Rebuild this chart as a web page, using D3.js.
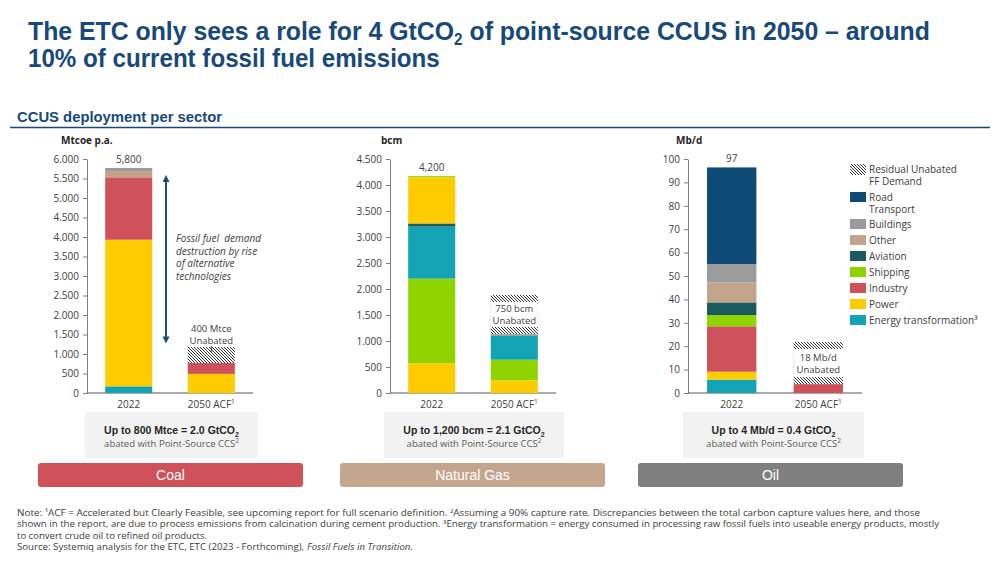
<!DOCTYPE html>
<html lang="en">
<head>
<meta charset="utf-8">
<title>CCUS deployment per sector</title>
<script src="https://cdnjs.cloudflare.com/ajax/libs/d3/7.8.5/d3.min.js"></script>
<style>
  body { margin: 0; background: #fff; }
  text { font-family: "Open Sans", "DejaVu Sans", sans-serif; fill: #404040; white-space: pre; }
  .narrow { font-family: "Liberation Sans Narrow", "Arial Narrow", "Liberation Sans", sans-serif; }
</style>
</head>
<body>
<script>

var w = 1000;
var h = 563;

// sectors and their colours (legend order, top to bottom)
var sectorNames = ["Road Transport", "Buildings", "Other", "Aviation", "Shipping", "Industry", "Power", "Energy transformation"];
var sectorColors = ["#0D4A75", "#9B9B9B", "#C4A38D", "#1B5A5D", "#8FD400", "#CF525A", "#FFCC00", "#12A3B5"];
var legendLabels = [["Residual Unabated", "FF Demand"], ["Road", "Transport"], ["Buildings"], ["Other"], ["Aviation"], ["Shipping"], ["Industry"], ["Power"], ["Energy transformation³"]];

var categories = ["2022", "2050 ACF"];

// coal, Mtcoe p.a.
var coal2022Sectors = ["Energy transformation", "Power", "Industry", "Other", "Buildings"];
var coal2022Values = [170, 3760, 1600, 160, 80];
var coal2050Sectors = ["Power", "Industry"];
var coal2050Values = [490, 280];
var coalUnabated = 410;
var coalTicks = [0, 500, 1000, 1500, 2000, 2500, 3000, 3500, 4000, 4500, 5000, 5500, 6000];

// natural gas, bcm
var gas2022Sectors = ["Power", "Shipping", "Energy transformation", "Aviation", "Power", "Shipping"];
var gas2022Values = [575, 1625, 1000, 60, 890, 20];
var gas2050Sectors = ["Power", "Shipping", "Energy transformation", "Other"];
var gas2050Values = [245, 395, 470, 25];
var gasUnabated = 750;
var gasTicks = [0, 500, 1000, 1500, 2000, 2500, 3000, 3500, 4000, 4500];

// oil, Mb/d
var oil2022Sectors = ["Energy transformation", "Power", "Industry", "Shipping", "Aviation", "Other", "Buildings", "Road Transport"];
var oil2022Values = [5.7, 3.4, 19.4, 4.8, 5.4, 8.6, 7.8, 41.3];
var oil2050Sectors = ["Industry"];
var oil2050Values = [3.8];
var oilUnabated = 18;
var oilTicks = [0, 10, 20, 30, 40, 50, 60, 70, 80, 90, 100];

var totalLabels = ["5,800", "4,200", "97"];
var unabatedLabels = [["400 Mtce", "Unabated"], ["750 bcm", "Unabated"], ["18 Mb/d", "Unabated"]];
var unitLabels = ["Mtcoe p.a.", "bcm", "Mb/d"];
var boxBold = ["Up to 800 Mtce = 2.0 GtCO", "Up to 1,200 bcm = 2.1 GtCO", "Up to 4 Mb/d = 0.4 GtCO"];
var fuelNames = ["Coal", "Natural Gas", "Oil"];
var fuelColors = ["#CF525A", "#C4A68F", "#7F7F7F"];

var color = d3.scaleOrdinal(sectorNames, sectorColors);
var dotFormat = d3.formatLocale({decimal: ",", thousands: ".", grouping: [3], currency: ["", ""]}).format(",");

var svg = d3.select("body")
            .append("svg")
            .attr("width", w)
            .attr("height", h);

// lays pieces of text side by side (sub/superscripts as their own elements)
function richText(parent, x, y, anchor, parts, cls) {
  var g = parent.append("g");
  var cx = 0;
  parts.forEach(function(p) {
    var t = g.append("text")
      .attr("x", cx).attr("y", p.dy || 0)
      .attr("font-size", p.size)
      .attr("font-weight", p.weight || "normal")
      .attr("font-style", p.style || "normal")
      .text(p.t);
    if (cls) t.attr("class", cls);
    if (p.fill) t.style("fill", p.fill);
    cx += t.node().getComputedTextLength();
  });
  var x0 = anchor == "middle" ? x - cx / 2 : x;
  g.attr("transform", "translate(" + x0 + "," + y + ")");
  return {g: g, width: cx};
}

var defs = svg.append("defs");
var pat = defs.append("pattern")
    .attr("id", "hatch")
    .attr("patternUnits", "userSpaceOnUse")
    .attr("width", 3)
    .attr("height", 3);
pat.append("rect").attr("width", 3).attr("height", 3).attr("fill", "#fff");
pat.append("path")
   .attr("d", "M0,0 L3,3 M-1,2 L1,4 M2,-1 L4,1")
   .attr("stroke", "#333")
   .attr("stroke-width", 1);

defs.append("marker")
    .attr("id", "arrowhead")
    .attr("viewBox", "0 0 10 10")
    .attr("refX", 5).attr("refY", 5)
    .attr("markerWidth", 3.5).attr("markerHeight", 3.5)
    .attr("orient", "auto-start-reverse")
  .append("path")
    .attr("d", "M0,0 L10,5 L0,10 z")
    .attr("fill", "#1F4E79");

// title, squeezed horizontally to the reference width
var navy = "#17497A";
var t1 = richText(svg, 0, 0, "start", [
  {t: "The ETC only sees a role for 4 GtCO", size: 26, weight: "bold", fill: navy},
  {t: "2", size: 16, dy: 5, weight: "bold", fill: navy},
  {t: " of point-source CCUS in 2050 – around", size: 26, weight: "bold", fill: navy}
], "narrow");
t1.g.attr("transform", "translate(28,40) scale(" + (902 / t1.width) + ",1)");
var t2 = richText(svg, 0, 0, "start", [
  {t: "10% of current fossil fuel emissions", size: 26, weight: "bold", fill: navy}
], "narrow");
t2.g.attr("transform", "translate(28,67) scale(" + (412 / t2.width) + ",1)");

svg.append("text").attr("class", "narrow")
    .attr("x", 17).attr("y", 122)
    .attr("font-size", 15).attr("font-weight", "bold")
    .style("fill", navy)
    .attr("textLength", 205).attr("lengthAdjust", "spacingAndGlyphs")
    .text("CCUS deployment per sector");

svg.append("line")
   .attr("x1", 10).attr("x2", 990)
   .attr("y1", 127.5).attr("y2", 127.5)
   .attr("stroke", navy)
   .attr("stroke-width", 1.5);

function stack(names, values) {
  var sums = d3.cumsum(values);
  return values.map(function(v, i) {
    return {sector: names[i], y0: sums[i] - v, y1: sums[i]};
  });
}

var charts = [
  {x0: 87, len: 166, max: 6000, ticks: coalTicks, unitDx: -26, inside: false,
   bars: [stack(coal2022Sectors, coal2022Values), stack(coal2050Sectors, coal2050Values)],
   unabated: coalUnabated, box: [85, 258], band: [38, 303]},
  {x0: 390, len: 166, max: 4500, ticks: gasTicks, unitDx: -9, inside: true,
   bars: [stack(gas2022Sectors, gas2022Values), stack(gas2050Sectors, gas2050Values)],
   unabated: gasUnabated, box: [384, 564], band: [340, 605]},
  {x0: 688, len: 174, max: 100, ticks: oilTicks, unitDx: -12, inside: true,
   bars: [stack(oil2022Sectors, oil2022Values), stack(oil2050Sectors, oil2050Values)],
   unabated: oilUnabated, box: [683, 864], band: [638, 903]}
];

charts.forEach(function(c, k) {
  var y = d3.scaleLinear().domain([0, c.max]).range([393, 159]);
  var x = d3.scaleBand().domain(categories)
            .range([c.x0, c.x0 + c.len])
            .paddingInner(0.43).paddingOuter(0.22);
  var g = svg.append("g");

  var ax = g.append("g")
      .attr("transform", "translate(" + c.x0 + ",0)")
      .call(d3.axisLeft(y).tickValues(c.ticks).tickSize(4).tickSizeOuter(0).tickPadding(4)
              .tickFormat(function(d) { return dotFormat(d); }));
  ax.select(".domain").attr("stroke", "#7f7f7f");
  ax.selectAll(".tick line").attr("stroke", "#7f7f7f");
  ax.selectAll(".tick text").attr("font-size", 10).style("fill", "#404040");

  g.append("line")
   .attr("x1", c.x0).attr("x2", c.x0 + c.len)
   .attr("y1", y(0)).attr("y2", y(0))
   .attr("stroke", "#595959");

  g.append("text")
   .attr("x", c.x0 + c.unitDx).attr("y", 144)
   .attr("font-size", 10).attr("font-weight", "bold")
   .style("fill", "#262626")
   .text(unitLabels[k]);

  c.bars.forEach(function(segs, i) {
    g.selectAll(null)
     .data(segs)
     .enter()
     .append("rect")
     .attr("x", x(categories[i]))
     .attr("width", x.bandwidth())
     .attr("y", function(d) { return y(d.y1); })
     .attr("height", function(d) { return y(d.y0) - y(d.y1); })
     .attr("fill", function(d) { return color(d.sector); });
  });

  // x labels
  categories.forEach(function(cat, i) {
    var parts = [{t: cat, size: 10}];
    if (i == 1) parts.push({t: "1", size: 6.5, dy: -4});
    richText(g, x(cat) + x.bandwidth() / 2, 408, "middle", parts);
  });

  // total above 2022 bar
  var top22 = c.bars[0][c.bars[0].length - 1].y1;
  g.append("text")
   .attr("x", x(categories[0]) + x.bandwidth() / 2)
   .attr("y", y(top22) - 5)
   .attr("text-anchor", "middle").attr("font-size", 10)
   .text(totalLabels[k]);

  // residual unabated demand
  var base = c.bars[1][c.bars[1].length - 1].y1;
  var bx = x(categories[1]);
  var hy0 = y(base + c.unabated), hy1 = y(base);
  g.append("rect")
   .attr("x", bx).attr("width", x.bandwidth())
   .attr("y", hy0).attr("height", hy1 - hy0)
   .attr("fill", "url(#hatch)");
  var cx = bx + x.bandwidth() / 2;
  var ly;
  if (c.inside) {
    g.append("rect")
     .attr("x", bx).attr("width", x.bandwidth())
     .attr("y", hy0 + 7).attr("height", hy1 - hy0 - 14)
     .attr("fill", "#fff");
    ly = (hy0 + hy1) / 2 - 2.5;
  } else {
    ly = hy0 - 15;
    g.append("line")
     .attr("x1", cx).attr("x2", cx)
     .attr("y1", hy0 - 1).attr("y2", hy0 + 5)
     .attr("stroke", "#404040");
  }
  unabatedLabels[k].forEach(function(s, j) {
    g.append("text")
     .attr("x", cx).attr("y", ly + j * 12)
     .attr("text-anchor", "middle").attr("font-size", 9.5)
     .text(s);
  });

  // grey summary box
  var mid = (c.box[0] + c.box[1]) / 2;
  g.append("rect")
   .attr("x", c.box[0]).attr("y", 412)
   .attr("width", c.box[1] - c.box[0]).attr("height", 46)
   .attr("fill", "#F2F2F2");
  richText(g, mid, 434, "middle", [
    {t: boxBold[k], size: 10.5, weight: "bold", fill: "#262626"},
    {t: "2", size: 7, dy: 3, weight: "bold", fill: "#262626"}
  ], "narrow");
  richText(g, mid, 447, "middle", [
    {t: "abated with Point-Source CCS", size: 9.5, fill: "#595959"},
    {t: "2", size: 6.5, dy: -4, fill: "#595959"}
  ]);

  // fuel band
  g.append("rect")
   .attr("x", c.band[0]).attr("y", 463)
   .attr("width", c.band[1] - c.band[0]).attr("height", 24)
   .attr("rx", 3)
   .attr("fill", fuelColors[k]);
  g.append("text").attr("class", "narrow")
   .attr("x", (c.band[0] + c.band[1]) / 2).attr("y", 480)
   .attr("text-anchor", "middle").attr("font-size", 14)
   .style("fill", "#fff")
   .text(fuelNames[k]);

  if (k == 0) {
    g.append("line")
     .attr("x1", 166).attr("x2", 166)
     .attr("y1", y(5500)).attr("y2", y(1360))
     .attr("stroke", "#1F4E79").attr("stroke-width", 2)
     .attr("marker-start", "url(#arrowhead)")
     .attr("marker-end", "url(#arrowhead)");
    var note = ["Fossil fuel  demand", "destruction by rise", "of alternative", "technologies"];
    note.forEach(function(s, j) {
      g.append("text")
       .attr("x", 176).attr("y", 242 + j * 12.5)
       .attr("font-size", 10).attr("font-style", "italic")
       .text(s);
    });
  }
});

// legend
var lg = svg.append("g");
legendLabels.forEach(function(lab, i) {
  var yy = i == 0 ? 164 : 176 + i * 16 + (i > 1 ? 11 : 0);
  lg.append("rect")
    .attr("x", 850).attr("y", yy)
    .attr("width", 16).attr("height", i == 0 ? 11 : 10)
    .attr("fill", i == 0 ? "url(#hatch)" : color(sectorNames[i - 1]));
  lab.forEach(function(s, j) {
    lg.append("text")
      .attr("x", 869).attr("y", yy + 8.5 + j * 12)
      .attr("font-size", 10)
      .text(s);
  });
});

// footnote
var notes = [
  "Note: ¹ACF = Accelerated but Clearly Feasible, see upcoming report for full scenario definition. ²Assuming a 90% capture rate. Discrepancies between the total carbon capture values here, and those",
  "shown in the report, are due to process emissions from calcination during cement production. ³Energy transformation = energy consumed in processing raw fossil fuels into useable energy products, mostly",
  "to convert crude oil to refined oil products."
];
var noteLen = [903, 922, 190];
notes.forEach(function(s, i) {
  svg.append("text")
     .attr("x", 17).attr("y", 516 + i * 11.3)
     .attr("font-size", 8.5)
     .attr("textLength", noteLen[i]).attr("lengthAdjust", "spacingAndGlyphs")
     .text(s);
});
var src = richText(svg, 0, 0, "start", [
  {t: "Source: Systemiq analysis for the ETC, ETC (2023 - Forthcoming), ", size: 8.5},
  {t: "Fossil Fuels in Transition.", size: 8.5, style: "italic"}
]);
src.g.attr("transform", "translate(17,550) scale(" + (396 / src.width) + ",1)");

</script>
</body>
</html>
